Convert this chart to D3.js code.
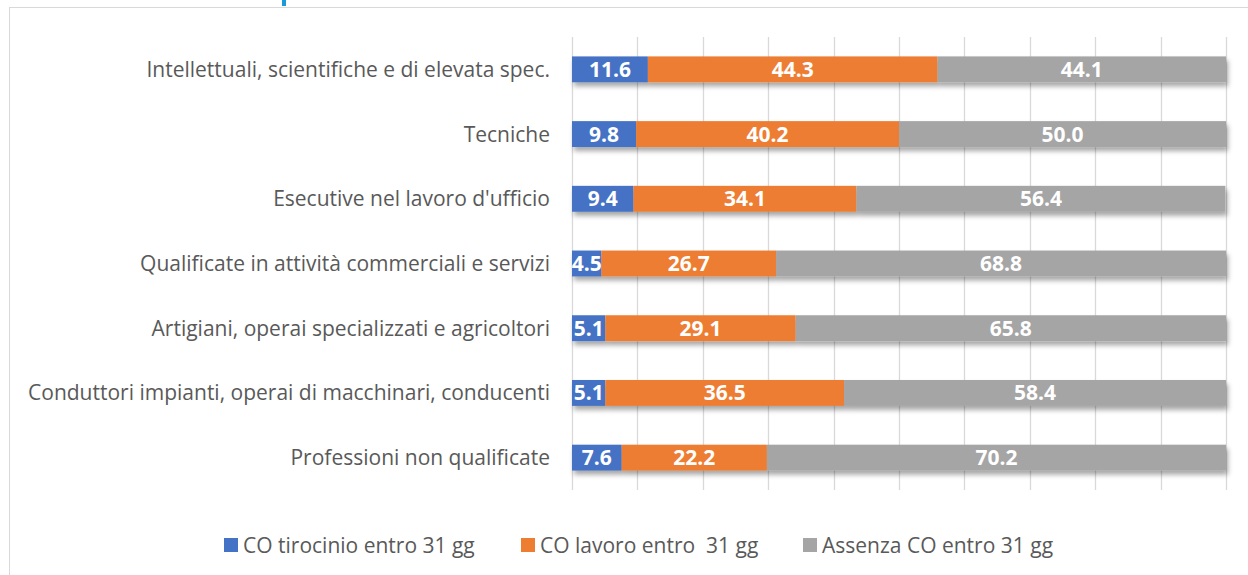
<!DOCTYPE html>
<html>
<head>
    <meta charset="utf-8">
    <script src="https://d3js.org/d3.v7.min.js"></script>
    <style>
        body { margin: 0; background: #fff; font-family: "Open Sans", sans-serif; }
        .cat-label { fill: #595959; }
        .val-label { fill: #fff; font-weight: bold; }
        .legend-text { fill: #595959; }
    </style>
</head>
<body>
<div id="chart"></div>
<script>
    // data
    const categories = [
        "Intellettuali, scientifiche e di elevata spec.",
        "Tecniche",
        "Esecutive nel lavoro d'ufficio",
        "Qualificate in attività commerciali e servizi",
        "Artigiani, operai specializzati e agricoltori",
        "Conduttori impianti, operai di macchinari, conducenti",
        "Professioni non qualificate"
    ];
    const seriesNames = ["CO tirocinio entro 31 gg", "CO lavoro entro  31 gg", "Assenza CO entro 31 gg"];
    const tirocinio = [11.6, 9.8, 9.4, 4.5, 5.1, 5.1, 7.6];
    const lavoro = [44.3, 40.2, 34.1, 26.7, 29.1, 36.5, 22.2];
    const assenza = [44.1, 50.0, 56.4, 68.8, 65.8, 58.4, 70.2];
    const colors = ["#4472C4", "#ED7D31", "#A5A5A5"];
    const gridTicks = [0, 10, 20, 30, 40, 50, 60, 70, 80, 90, 100];

    const width = 1248, height = 575;
    const svg = d3.select("#chart").append("svg")
        .attr("width", width)
        .attr("height", height);

    // shadow under bars
    const filter = svg.append("defs").append("filter")
        .attr("id", "shadow")
        .attr("x", "-5%").attr("y", "-30%")
        .attr("width", "110%").attr("height", "180%");
    filter.append("feDropShadow")
        .attr("dx", 2).attr("dy", 4)
        .attr("stdDeviation", 2.5)
        .attr("flood-color", "#000")
        .attr("flood-opacity", 0.35);

    // chart frame
    svg.append("rect")
        .attr("x", 9.5).attr("y", 7.5)
        .attr("width", 1260).attr("height", 600)
        .attr("fill", "#fff")
        .attr("stroke", "#d9d9d9");

    // cut-off title fragment
    svg.append("rect")
        .attr("x", 282).attr("y", 0)
        .attr("width", 4).attr("height", 6)
        .attr("fill", "#1a9ad6");

    const x = d3.scaleLinear().domain([0, 100]).range([572, 1226]);
    const y = d3.scaleBand().domain(categories).range([37, 490]).paddingInner(0.6).paddingOuter(0.3);

    // size text so it fills the same width as in the original
    function fitSize(str, target, weight) {
        const t = svg.append("text").style("font-size", "20px").style("font-weight", weight).text(str);
        const w = t.node().getComputedTextLength();
        t.remove();
        return 20 * target / w;
    }
    const labelSize = fitSize(categories[5], 522, "normal");
    const valSize = fitSize("44.3", 42, "bold");

    svg.selectAll(".grid")
        .data(gridTicks)
        .enter().append("line")
        .attr("class", "grid")
        .attr("x1", d => Math.round(x(d)) + 0.5)
        .attr("x2", d => Math.round(x(d)) + 0.5)
        .attr("y1", 37).attr("y2", 490)
        .attr("stroke", "#d9d9d9")
        .attr("stroke-width", 1.3);

    const rows = categories.map((c, i) => ({ cat: c, vals: [tirocinio[i], lavoro[i], assenza[i]] }));
    const stacked = [];
    rows.forEach(r => {
        let acc = 0;
        r.vals.forEach((v, j) => {
            stacked.push({ cat: r.cat, s: j, v: v, x0: acc, x1: acc + v });
            acc += v;
        });
    });

    const barG = svg.append("g").attr("filter", "url(#shadow)");
    barG.selectAll(".bar")
        .data(stacked)
        .enter().append("rect")
        .attr("class", "bar")
        .attr("x", d => x(d.x0))
        .attr("y", d => y(d.cat))
        .attr("width", d => x(d.x1) - x(d.x0))
        .attr("height", y.bandwidth())
        .attr("fill", d => colors[d.s]);

    svg.selectAll(".val-label")
        .data(stacked)
        .enter().append("text")
        .attr("class", "val-label")
        .style("font-size", valSize + "px")
        .attr("x", d => (x(d.x0) + x(d.x1)) / 2)
        .attr("y", d => y(d.cat) + y.bandwidth() / 2)
        .attr("dy", "0.36em")
        .attr("text-anchor", "middle")
        .text(d => d.v.toFixed(1));

    svg.selectAll(".cat-label")
        .data(categories)
        .enter().append("text")
        .attr("class", "cat-label")
        .style("font-size", labelSize + "px")
        .attr("x", 550)
        .attr("y", d => y(d) + y.bandwidth() / 2)
        .attr("dy", "0.36em")
        .attr("text-anchor", "end")
        .text(d => d);

    // legend
    const legendX = [224, 521, 803];
    const legend = svg.selectAll(".legend")
        .data(seriesNames)
        .enter().append("g")
        .attr("class", "legend")
        .attr("transform", (d, i) => `translate(${legendX[i]},545)`);
    legend.append("rect")
        .attr("x", 0).attr("y", -7)
        .attr("width", 14).attr("height", 14)
        .attr("fill", (d, i) => colors[i]);
    legend.append("text")
        .attr("class", "legend-text")
        .style("font-size", labelSize + "px")
        .attr("x", 19)
        .attr("dy", "0.36em")
        .style("white-space", "pre")
        .text(d => d);
</script>
</body>
</html>
